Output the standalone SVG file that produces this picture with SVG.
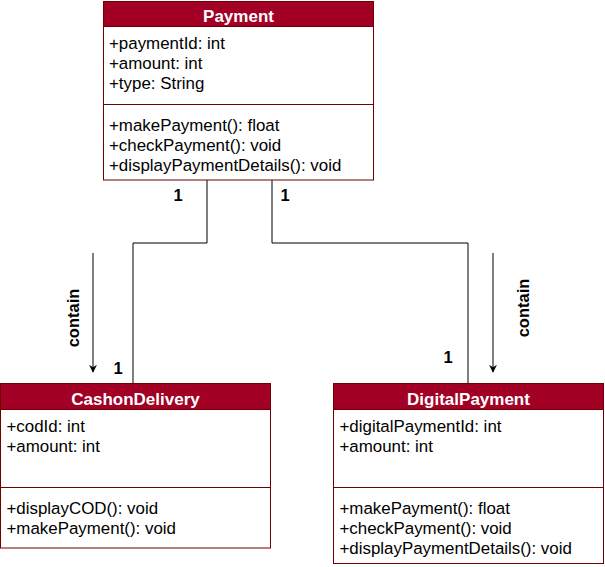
<svg xmlns="http://www.w3.org/2000/svg" width="605" height="567" viewBox="0 0 605 567">
<style>
.box{fill:#ffffff;stroke:#6F0000;stroke-width:1}
.hdr{fill:#a20025;stroke:#6F0000;stroke-width:1}
.div{stroke:#6F0000;stroke-width:1}
.title{font-family:"Liberation Sans",Arial,sans-serif;font-size:17px;font-weight:bold;fill:#ffffff;text-anchor:middle}
.t{font-family:"Liberation Sans",Arial,sans-serif;font-size:16.9px;fill:#000000}
.lbl{font-family:"Liberation Sans",Arial,sans-serif;font-size:16.5px;font-weight:bold;fill:#000000}
.edge{fill:none;stroke:#000000;stroke-width:1}
</style>
<defs>
<marker id="arr" viewBox="0 0 10 10" refX="9" refY="5" markerWidth="8" markerHeight="8" markerUnits="userSpaceOnUse" orient="auto">
<path d="M0,0 L10,5 L0,10 L3,5 Z" fill="#000"/>
</marker>
</defs>
<g id="connectors">
<path class="edge" d="M207,180 L207,243 L133,243 L133,383"/>
<path class="edge" d="M272,180 L272,243 L468,243 L468,383"/>
<line class="edge" x1="93" y1="253" x2="93" y2="372" marker-end="url(#arr)"/>
<line class="edge" x1="493" y1="253" x2="493" y2="372" marker-end="url(#arr)"/>
<text class="lbl" transform="translate(79,318) rotate(-90)" text-anchor="middle">contain</text>
<text class="lbl" transform="translate(529,308) rotate(-90)" text-anchor="middle">contain</text>
<text class="lbl" x="178" y="201" text-anchor="middle">1</text>
<text class="lbl" x="285" y="201" text-anchor="middle">1</text>
<text class="lbl" x="118" y="374" text-anchor="middle">1</text>
<text class="lbl" x="448" y="363" text-anchor="middle">1</text>
</g>
<g id="Payment">
<rect class="box" x="103.5" y="1.5" width="270" height="178.5"/>
<rect class="hdr" x="103.5" y="1.5" width="270" height="25"/>
<line class="div" x1="103.5" y1="104.5" x2="373.5" y2="104.5"/>
<text class="title" x="238.5" y="22">Payment</text>
<text class="t" x="109" y="49">+paymentId: int</text>
<text class="t" x="109" y="69">+amount: int</text>
<text class="t" x="109" y="89">+type: String</text>
<text class="t" x="109" y="131">+makePayment(): float</text>
<text class="t" x="109" y="151">+checkPayment(): void</text>
<text class="t" x="109" y="171">+displayPaymentDetails(): void</text>
</g>
<g id="CashonDelivery">
<rect class="box" x="0.5" y="383.5" width="270" height="164.5"/>
<rect class="hdr" x="0.5" y="383.5" width="270" height="26"/>
<line class="div" x1="0.5" y1="487.5" x2="270.5" y2="487.5"/>
<text class="title" x="135.5" y="405">CashonDelivery</text>
<text class="t" x="6.5" y="432">+codId: int</text>
<text class="t" x="6.5" y="452">+amount: int</text>
<text class="t" x="6.5" y="514">+displayCOD(): void</text>
<text class="t" x="6.5" y="534">+makePayment(): void</text>
</g>
<g id="DigitalPayment">
<rect class="box" x="333.5" y="383.5" width="270" height="180"/>
<rect class="hdr" x="333.5" y="383.5" width="270" height="26"/>
<line class="div" x1="333.5" y1="487.5" x2="603.5" y2="487.5"/>
<text class="title" x="468.5" y="405">DigitalPayment</text>
<text class="t" x="339.5" y="432">+digitalPaymentId: int</text>
<text class="t" x="339.5" y="452">+amount: int</text>
<text class="t" x="339.5" y="514">+makePayment(): float</text>
<text class="t" x="339.5" y="534">+checkPayment(): void</text>
<text class="t" x="339.5" y="554">+displayPaymentDetails(): void</text>
</g>
</svg>
